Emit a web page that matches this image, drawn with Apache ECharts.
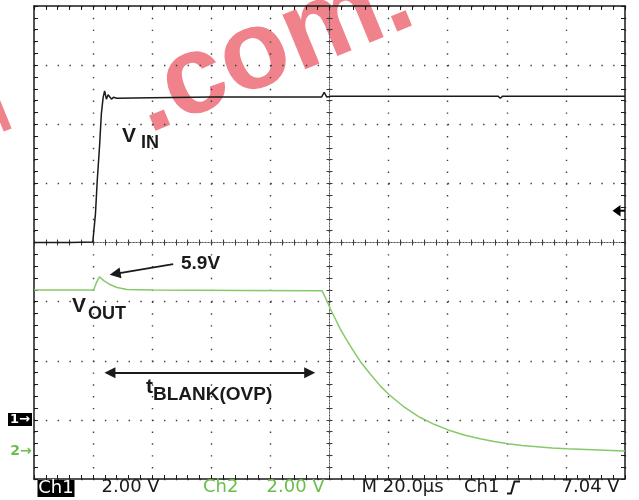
<!DOCTYPE html>
<html>
<head>
<meta charset="utf-8">
<script src="https://cdn.jsdelivr.net/npm/echarts@6/dist/echarts.min.js"></script>
<style>
  html, body { margin: 0; padding: 0; background: #fff; }
  #chart { width: 639px; height: 500px; }
</style>
</head>
<body>
<div id="chart"></div>
<script>
// scope settings: M 20.0us/div, Ch1 2.00 V/div, Ch2 2.00 V/div
const timeMin = 0, timeMax = 200, timeDiv = 20;
const ch1Min = -2, ch1Max = 14, voltDiv = 2;
const ch2Min = -0.92, ch2Max = 15.08;

// Ch1 = V_IN (us, V)
const vinTime  = [0, 11.4, 11.9, 12.4, 19.9, 20.8, 21.4, 22.15, 22.8, 23.4, 23.9, 24.5, 25.1, 26.2, 26.9, 28, 40, 60, 80, 97.3, 98.2, 99.1, 100.5, 120, 157, 157.8, 158.6, 200];
const vinVolts = [6.0, 6.0, 6.05, 6.0, 6.02, 6.97, 8.09, 9.21, 10.36, 10.91, 11.13, 10.85, 11.0, 10.85, 10.91, 10.88, 10.9, 10.92, 10.92, 10.92, 11.08, 10.92, 10.95, 10.95, 10.95, 10.88, 10.95, 10.95];

// Ch2 = V_OUT (us, V)
const voutTime  = [0, 20.2, 21.1, 22.15, 23.6, 25.9, 28.1, 31.5, 40, 70, 97.45, 99.14, 100.25, 101.94, 103.63, 105.33, 108.03, 110.74, 113.78, 117.16, 120.2, 124.94, 130.69, 135.42, 140.15, 145.56, 150.97, 155.71, 160.44, 165.17, 170.25, 175.32, 180.39, 189.18, 199.32, 200];
const voutVolts = [5.47, 5.47, 5.72, 5.92, 5.79, 5.65, 5.56, 5.49, 5.47, 5.46, 5.45, 5.11, 4.84, 4.50, 4.16, 3.86, 3.42, 3.01, 2.63, 2.23, 1.93, 1.54, 1.16, 0.93, 0.74, 0.57, 0.44, 0.35, 0.27, 0.21, 0.17, 0.13, 0.10, 0.07, 0.03, 0.03];

const ink = '#1a1a1a';
const gridInk = '#3c3c3c';
const green = '#86c96a';
const greenText = '#69bf47';

const chart = echarts.init(document.getElementById('chart'));

// one axis of the scope frame (border or centre line)
function frameAxis(extra) {
  return Object.assign({
    type: 'value',
    axisLine: { show: true, onZero: false, lineStyle: { color: ink, width: 1.5 } },
    axisTick: { show: true, inside: true, length: 4, lineStyle: { color: ink, width: 1 } },
    minorTick: { show: true, splitNumber: 5, length: 4, lineStyle: { color: ink, width: 1 } },
    axisLabel: { show: false },
    splitLine: { show: false }
  }, extra);
}

const centreLine = { show: true, onZero: false, lineStyle: { color: '#555', width: 1, type: [1, 2] } };
const dotGrid = { show: true, lineStyle: { color: gridInk, width: 1.4, type: [1.4, 10.42] } };
const timeRange = { min: timeMin, max: timeMax, interval: timeDiv };
const ch1Range = { min: ch1Min, max: ch1Max, interval: voltDiv };

// centre cross line with small ticks on one side
function centreAxis(range, pos, offset, inside) {
  return frameAxis(Object.assign({
    position: pos, offset: offset, axisLine: centreLine,
    axisTick: { show: true, inside: inside, length: 3, lineStyle: { color: gridInk, width: 1 } },
    minorTick: { show: true, splitNumber: 5, length: 3, lineStyle: { color: gridInk, width: 1 } }
  }, range));
}

function label(text, x, y, size, color) {
  return {
    type: 'text', x: x, y: y, silent: true, z: 10,
    style: {
      text: text, fill: color || ink,
      fontSize: size, fontWeight: 'bold', fontFamily: '"Liberation Sans", Arial, sans-serif',
      align: 'left', textAlign: 'left', verticalAlign: 'middle', textVerticalAlign: 'middle'
    }
  };
}

function statusText(text, x, color) {
  return {
    type: 'text', x: x, y: 487.5, silent: true, z: 10,
    style: {
      text: text, fill: color || ink, fontSize: 18, fontFamily: '"DejaVu Sans", sans-serif',
      align: 'left', textAlign: 'left', verticalAlign: 'middle', textVerticalAlign: 'middle'
    }
  };
}

const option = {
  animation: false,
  backgroundColor: '#fff',
  grid: { left: 34, top: 6, width: 591, height: 473, containLabel: false, outerBoundsMode: 'none' },
  xAxis: [
    frameAxis(Object.assign({ position: 'bottom', splitLine: dotGrid }, timeRange)),
    frameAxis(Object.assign({ position: 'top' }, timeRange)),
    centreAxis(timeRange, 'top', -236.5, true),
    centreAxis(timeRange, 'top', -236.5, false)
  ],
  yAxis: [
    frameAxis(Object.assign({ position: 'left', splitLine: dotGrid }, ch1Range)),
    { type: 'value', min: ch2Min, max: ch2Max, show: false },
    frameAxis(Object.assign({ position: 'right' }, ch1Range)),
    centreAxis(ch1Range, 'left', -295.5, true),
    centreAxis(ch1Range, 'left', -295.5, false)
  ],
  series: [
    {
      name: 'VIN', type: 'line', xAxisIndex: 0, yAxisIndex: 0, z: 5,
      data: vinTime.map((t, i) => [t, vinVolts[i]]),
      symbol: 'none', lineStyle: { color: ink, width: 1.5 }, itemStyle: { color: ink }
    },
    {
      name: 'VOUT', type: 'line', xAxisIndex: 0, yAxisIndex: 1, z: 4,
      data: voutTime.map((t, i) => [t, voutVolts[i]]),
      symbol: 'none', lineStyle: { color: green, width: 1.5 }, itemStyle: { color: green },
      markLine: {
        silent: true, animation: false,
        symbol: ['none', 'triangle'], symbolSize: 11,
        label: { show: false },
        lineStyle: { color: ink, width: 1.8, type: 'solid' },
        itemStyle: { color: ink },
        emphasis: { disabled: true },
        data: [
          [{ coord: [47.1, 6.35], symbol: 'none' }, { coord: [27.45, 6.02], symbol: 'triangle' }],
          [{ coord: [25.7, 2.67], symbol: 'triangle' }, { coord: [93.3, 2.67], symbol: 'triangle' }]
        ]
      }
    }
  ],
  graphic: {
    elements: [
      // watermark
      { type: 'text', x: 158, y: 157, rotation: 0.39, silent: true, z: 0,
        style: { text: '.com.', fill: 'rgba(234,88,100,0.75)', fontSize: 112, fontWeight: 'bold',
          fontFamily: '"Liberation Sans", Arial, sans-serif', align: 'left', textAlign: 'left',
          verticalAlign: 'bottom', textVerticalAlign: 'bottom' } },
      { type: 'text', x: 5, y: 146, rotation: 0.39, silent: true, z: 0,
        style: { text: 'l', fill: 'rgba(234,88,100,0.75)', fontSize: 62, fontWeight: 'bold',
          fontFamily: '"Liberation Sans", Arial, sans-serif', align: 'left', textAlign: 'left',
          verticalAlign: 'bottom', textVerticalAlign: 'bottom' } },

      // trace labels
      label('V', 122, 136, 21),
      label('IN', 141, 143.5, 18),
      label('V', 72, 306, 21),
      label('OUT', 88, 314, 18),
      label('5.9V', 181, 264, 19),
      label('t', 146, 387, 21),
      label('BLANK(OVP)', 153, 395, 19),

      // channel ground markers
      { type: 'rect', shape: { x: 8, y: 413, width: 24, height: 13 }, style: { fill: '#000' }, silent: true, z: 10 },
      { type: 'text', x: 20, y: 419.5, silent: true, z: 11,
        style: { text: '1\u2192', fill: '#fff', fontSize: 13, fontWeight: 'bold', fontFamily: '"DejaVu Sans", sans-serif',
          align: 'center', textAlign: 'center', verticalAlign: 'middle', textVerticalAlign: 'middle' } },
      { type: 'text', x: 21, y: 451, silent: true, z: 11,
        style: { text: '2\u2192', fill: greenText, fontSize: 14, fontWeight: 'bold', fontFamily: '"DejaVu Sans", sans-serif',
          align: 'center', textAlign: 'center', verticalAlign: 'middle', textVerticalAlign: 'middle' } },

      // trigger level arrow
      { type: 'polygon', shape: { points: [[612.5, 210.7], [620.5, 205], [620.5, 216.4]] }, style: { fill: '#000' }, silent: true, z: 10 },
      { type: 'line', shape: { x1: 619, y1: 210.7, x2: 625, y2: 210.7 }, style: { stroke: '#000', lineWidth: 2 }, silent: true, z: 10 },

      // status bar
      { type: 'rect', shape: { x: 37.5, y: 480, width: 37, height: 17 }, style: { fill: '#000' }, silent: true, z: 10 },
      { type: 'text', x: 56, y: 488.5, silent: true, z: 11,
        style: { text: 'Ch1', fill: '#fff', fontSize: 18, fontFamily: '"DejaVu Sans", sans-serif',
          align: 'center', textAlign: 'center', verticalAlign: 'middle', textVerticalAlign: 'middle' } },
      statusText('2.00 V', 101.5),
      statusText('Ch2', 203, greenText),
      statusText('2.00 V', 266.5, greenText),
      statusText('M 20.0\u00b5s', 361.5),
      statusText('Ch1', 464),
      { type: 'polyline', shape: { points: [[507, 493.5], [511, 493.5], [514.5, 481.5], [520, 481.5]] },
        style: { stroke: ink, lineWidth: 2, fill: null }, silent: true, z: 10 },
      statusText('7.04 V', 561.5)
    ]
  }
};

chart.setOption(option);
</script>
</body>
</html>
